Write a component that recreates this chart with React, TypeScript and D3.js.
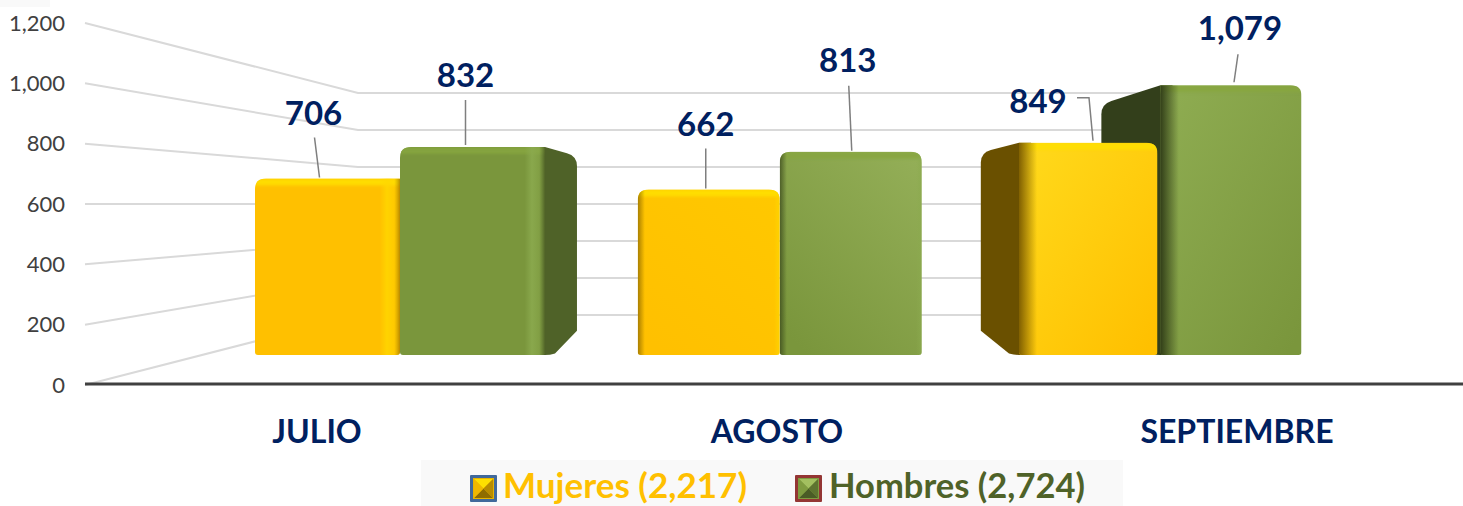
import React from "react";
import * as d3 from "d3";

const categories = ["JULIO", "AGOSTO", "SEPTIEMBRE"];
const mujeres = [706, 662, 849];
const hombres = [832, 813, 1079];
const yTicks = [0, 200, 400, 600, 800, 1000, 1200];
const legendLabels = ["Mujeres (2,217)", "Hombres (2,724)"];

// label placement, relative to each bar's top centre: [label dx, label dy (baseline), leader points...]
const labelLayoutM: number[][] = [
  [-14, -54, -13, -41, -8, -1],
  [-3, -54, -3, -41, -3, -1],
  [-51, -30, -12, -45, 0, -45, 4, -2],
];
const labelLayoutH: number[][] = [
  [-7, -60, -7, -47, -7, -2],
  [-3, -80, -2, -66, 1, -1],
  [10, -45, 8, -31, 4, -3],
];

const W = 1463, H = 506;
const FONT = "Lato, Carlito, Calibri, sans-serif";
const NAVY = "#002060";
const VX = 761, VY = 204, KX = 0.148, KY = 0.16;

const yAxis = d3.scaleLinear().domain([0, 1200]).range([385, 23]);
const yWall = d3.scaleLinear().domain([0, 1200]).range([315, 93]);
const yBar = d3.scaleLinear().domain([0, 1200]).range([355, 55]);
const xGroup = d3.scalePoint<string>().domain(categories).range([400, 1159.5]);
const xLabel = d3.scalePoint<string>().domain(categories).range([317, 1237]);
const barWidths = [145, 142, 141];

const wallLeft = 85, wallBack = 358, wallRight = 1150;

type Pal = { base: string[]; side: string; top: string; edgeDark: string; edgeLight: string; lightOp: number };
const palM: Pal = { base: ["#FFC000", "#FFC800", "#FFDA1C"], side: "#6A5000", top: "#FFE000", edgeDark: "#7A5A00", edgeLight: "#FFD800", lightOp: 0.8 };
const palH: Pal = { base: ["#7A963C", "#93AE57", "#8FAD52"], side: "#4F6228", top: "#87A63F", edgeDark: "#2E3A16", edgeLight: "#8BAA4E", lightOp: 0.9 };
const palBottom = { m: "#FFC000", h: "#7A963C" };

function frontPath(x0: number, x1: number, top: number, bot: number, rl: number, rr: number) {
  const b = 3;
  return `M${x0},${bot - b}V${top + rl}Q${x0},${top} ${x0 + rl},${top}H${x1 - rr}Q${x1},${top} ${x1},${top + rr}V${bot - b}Q${x1},${bot} ${x1 - b},${bot}H${x0 + b}Q${x0},${bot} ${x0},${bot - b}Z`;
}

function sidePath(xf: number, top: number, bot: number) {
  const xb = xf + (VX - xf) * KX;
  const tb = top + (VY - top) * KY;
  const bb = bot + (VY - bot) * KY;
  const dir = Math.sign(xb - xf);
  const r = 10;
  const ratio = (tb - top) / (xb - xf);
  return `M${xf - dir * 12},${top}L${xf},${top}L${xb - dir * r},${tb - ratio * dir * r}Q${xb},${tb} ${xb},${tb + r}V${bb}L${xf + dir * 10},${bot - 1.5}Q${xf + dir * 5},${bot} ${xf},${bot}H${xf - dir * 12}Z`;
}

function Bar({ id, x0, width, value, groupIdx, pal, bottom, rl, rr }: any) {
  const x1 = x0 + width;
  const top = yBar(value);
  const bot = yBar(0);
  const mode = groupIdx; // 0: side on right, 1: facing, 2: side on left
  const hasBase = pal.base[mode];
  return (
    <g>
      <defs>
        <clipPath id={`clip-${id}`}><path d={frontPath(x0, x1, top, bot, rl, rr)} /></clipPath>
        <linearGradient id={`base-${id}`} x1={mode === 1 ? "0.9" : "0"} y1="0" x2={mode === 1 ? "0.2" : "0.9"} y2="1">
          <stop offset="0" stopColor={hasBase} />
          <stop offset="1" stopColor={bottom} />
        </linearGradient>
        <linearGradient id={`edge-${id}`} x1="0" x2="1" y1="0" y2="0">
          {mode === 0 && <>
            <stop offset="0" stopColor={pal.edgeDark} stopOpacity="0" />
            <stop offset="0.86" stopColor={pal.edgeLight} stopOpacity="0" />
            <stop offset="0.91" stopColor={pal.edgeLight} stopOpacity={pal.lightOp} />
            <stop offset="0.96" stopColor={pal.edgeLight} stopOpacity={pal.lightOp * 0.5} />
            <stop offset="1" stopColor={pal.edgeDark} stopOpacity="0.55" />
          </>}
          {mode === 1 && <>
            <stop offset="0" stopColor={pal.edgeDark} stopOpacity="0.65" />
            <stop offset="0.05" stopColor={pal.edgeDark} stopOpacity="0" />
            <stop offset="0.96" stopColor={pal.edgeLight} stopOpacity="0" />
            <stop offset="1" stopColor={pal.edgeLight} stopOpacity="0.7" />
          </>}
          {mode === 2 && <>
            <stop offset="0" stopColor={pal.edgeDark} stopOpacity="0.95" />
            <stop offset="0.13" stopColor={pal.edgeDark} stopOpacity="0" />
            <stop offset="1" stopColor={pal.edgeDark} stopOpacity="0" />
          </>}
        </linearGradient>
      </defs>
      <g clipPath={`url(#clip-${id})`}>
        <rect x={x0} y={top} width={width} height={bot - top} fill={`url(#base-${id})`} />
        <rect x={x0} y={top} width={width} height={7} fill={pal.top} filter="url(#soft)" opacity={0.85} />
        <rect x={x0} y={top} width={width} height={bot - top} fill={`url(#edge-${id})`} />
      </g>
    </g>
  );
}

function Marker({ x, y, border, frame, top, left, right, bottom }: any) {
  const s = 27, b = 3, f = 1;
  const a = x + b + f, c = x + s - b - f, t = y + b + f, e = y + s - b - f;
  const mx = (a + c) / 2, my = (t + e) / 2;
  return (
    <g>
      <rect x={x} y={y} width={s} height={s} fill={border} rx={1} />
      <rect x={x + b} y={y + b} width={s - 2 * b} height={s - 2 * b} fill={frame} />
      <polygon points={`${a},${t} ${c},${t} ${mx},${my}`} fill={top} />
      <polygon points={`${a},${e} ${c},${e} ${mx},${my}`} fill={bottom} />
      <polygon points={`${a},${t} ${a},${e} ${mx},${my}`} fill={left} />
      <polygon points={`${c},${t} ${c},${e} ${mx},${my}`} fill={right} />
    </g>
  );
}

export default function App() {
  const groups = categories.map((c, i) => {
    const cx = xGroup(c)!;
    return { c, i, cx, w: barWidths[i] };
  });
  const sideCfg = [
    { m: false, h: true, hFill: "#4F6228" },
    { m: false, h: false, hFill: "#4F6228" },
    { m: true, h: true, hFill: "#333F1B" },
  ];
  const leader = (layout: number[], cx: number, top: number) => {
    const pts: [number, number][] = [];
    for (let k = 2; k < layout.length; k += 2) pts.push([cx + layout[k], top + layout[k + 1]]);
    return d3.line()(pts)!;
  };
  return (
    <svg width={W} height={H} viewBox={`0 0 ${W} ${H}`} style={{ position: "absolute", left: 0, top: 0, background: "#fff" }}>
      <defs>
        <filter id="soft" x="-5%" y="-100%" width="110%" height="300%"><feGaussianBlur stdDeviation="1.6" /></filter>
      </defs>
      <rect x={0} y={0} width={50} height={7} fill="#F9F9F9" />

      {yTicks.map((t) => (
        <path key={t} d={d3.line()([[wallLeft, yAxis(t)], [wallBack, yWall(t)], [wallRight, yWall(t)]])!}
          fill="none" stroke="#D9D9D9" strokeWidth={2} />
      ))}
      <line x1={wallLeft} x2={W} y1={384} y2={384} stroke="#404040" strokeWidth={3} />
      {yTicks.map((t) => (
        <text key={t} x={65} y={yAxis(t) + 7.5} textAnchor="end" fontFamily={FONT} fontSize={22} fill="#404040">
          {d3.format(",")(t)}
        </text>
      ))}

      {groups.map(({ c, i, cx, w }) => {
        const cfg = sideCfg[i];
        const topM = yBar(mujeres[i]), topH = yBar(hombres[i]), bot = yBar(0);
        return (
          <g key={c}>
            {cfg.h && <path d={sidePath(i === 0 ? cx + w : cx + 1, topH, bot)} fill={cfg.hFill} />}
            {cfg.m && <path d={sidePath(cx - w + 0.5, topM, bot)} fill={palM.side} />}
          </g>
        );
      })}
      {groups.map(({ c, i, cx, w }) => {
        const gapH = i === 2 ? 1 : 0;
        const m = <Bar key="m" id={`m${i}`} x0={cx - w + (i === 2 ? 0.5 : 0)} width={w - (i === 2 ? 2.5 : 0)} value={mujeres[i]} groupIdx={i} pal={palM} bottom={palBottom.m} rl={i === 2 ? 0 : 11} rr={i === 0 ? 0 : 11} />;
        const h = <Bar key="h" id={`h${i}`} x0={cx + gapH} width={w} value={hombres[i]} groupIdx={i} pal={palH} bottom={palBottom.h} rl={i === 2 ? 0 : 11} rr={i === 0 ? 0 : 11} />;
        return <g key={c}>{i === 2 ? [h, m] : [m, h]}</g>;
      })}

      {groups.map(({ c, i, cx, w }) => {
        const mc = cx - w / 2, hc = cx + w / 2;
        const topM = yBar(mujeres[i]), topH = yBar(hombres[i]);
        const lm = labelLayoutM[i], lh = labelLayoutH[i];
        return (
          <g key={c} fontFamily={FONT} fontWeight={700} fontSize={33} fill={NAVY} textAnchor="middle">
            <path d={leader(lm, mc, topM)} fill="none" stroke="#7F7F7F" strokeWidth={1.5} />
            <path d={leader(lh, hc, topH)} fill="none" stroke="#7F7F7F" strokeWidth={1.5} />
            <text x={mc + lm[0]} y={topM + lm[1]}>{d3.format(",")(mujeres[i])}</text>
            <text x={hc + lh[0]} y={topH + lh[1]}>{d3.format(",")(hombres[i])}</text>
          </g>
        );
      })}

      {categories.map((c) => (
        <text key={c} x={xLabel(c)} y={443} textAnchor="middle" fontFamily={FONT} fontWeight={700} fontSize={32} fill={NAVY}>{c}</text>
      ))}

      <rect x={421} y={460} width={702} height={46} fill="#F9F9F9" />
      <Marker x={470} y={475} border="#41699B" frame="#E8B400" top="#FFE000" left="#F0B800" right="#B88C00" bottom="#8F6C00" />
      <Marker x={795} y={475} border="#943634" frame="#7F9C40" top="#A3C060" left="#7F9C40" right="#5E7430" bottom="#4A5C26" />
      <text x={503} y={498} fontFamily={FONT} fontWeight={700} fontSize={34} fill="#FFC000" textLength={244} lengthAdjust="spacingAndGlyphs">{legendLabels[0]}</text>
      <text x={829} y={498} fontFamily={FONT} fontWeight={700} fontSize={34} fill="#4F6228" textLength={256} lengthAdjust="spacingAndGlyphs">{legendLabels[1]}</text>
    </svg>
  );
}
